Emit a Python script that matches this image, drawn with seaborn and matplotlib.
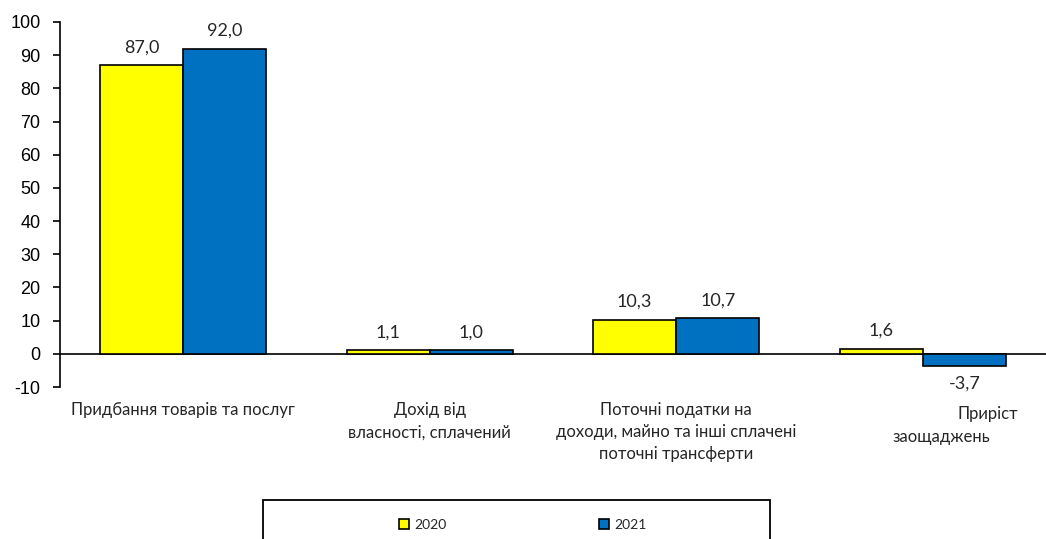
"""
Structure of household expenditures, 2020 vs 2021 (% of income).
Grouped bar chart with value labels and a boxed legend at the bottom.
"""

import pandas as pd
import matplotlib.pyplot as plt
import seaborn as sns
from matplotlib.patches import Patch, Rectangle
from matplotlib.transforms import blended_transform_factory

# --- Data ---
categories = [
    "Придбання товарів та послуг",
    "Дохід від\nвласності, сплачений",
    "Поточні податки на\nдоходи, майно та інші сплачені\nпоточні трансферти",
    "Приріст заощаджень",
]
years = ["2020", "2021"]
values_2020 = [87.0, 1.1, 10.3, 1.6]
values_2021 = [92.0, 1.0, 10.7, -3.7]
y_ticks = [-10, 0, 10, 20, 30, 40, 50, 60, 70, 80, 90, 100]
colors = ["#FFFF00", "#0070C0"]

label_font = ["Lato", "DejaVu Sans"]
tick_font = ["Liberation Sans", "DejaVu Sans"]


def build_frame():
    rows = []
    for cat, v in zip(categories, values_2020):
        rows.append({"Category": cat, "Year": years[0], "Value": v})
    for cat, v in zip(categories, values_2021):
        rows.append({"Category": cat, "Year": years[1], "Value": v})
    return pd.DataFrame(rows)


def main():
    df = build_frame()
    sns.set_style("white")

    fig = plt.figure(figsize=(10.46, 5.39), dpi=100)
    ax = fig.add_axes([60 / 1046, 1 - 387 / 539, 1 - 60 / 1046, (387 - 22) / 539])

    sns.barplot(
        data=df, x="Category", y="Value", hue="Year",
        order=categories, hue_order=years, palette=colors,
        width=0.675, edgecolor="black", linewidth=1.2,
        saturation=1, legend=False, ax=ax,
    )

    # value labels with decimal comma
    for cont, vals in zip(ax.containers, [values_2020, values_2021]):
        labels = [f"{v:.1f}".replace(".", ",") for v in vals]
        ax.bar_label(cont, labels=labels, padding=7, fontsize=13,
                     family=label_font)

    ax.set_ylim(-10, 100)
    ax.set_xlim(-0.5, 3.5)
    ax.set_yticks(y_ticks)
    ax.set_yticklabels([str(t) for t in y_ticks], fontsize=13, family=tick_font)
    ax.axhline(0, color="black", lw=1.2, zorder=0.5)

    for side in ["top", "right", "bottom"]:
        ax.spines[side].set_visible(False)
    ax.spines["left"].set_color("black")
    ax.spines["left"].set_linewidth(1.2)
    ax.tick_params(axis="y", left=True, direction="out", length=5, width=1.2,
                   pad=9, colors="black")

    # category labels (last one has odd alignment in the original)
    xticklabels = categories[:3] + [""]
    ax.set_xticks(range(len(categories)))
    ax.set_xticklabels(xticklabels, fontsize=12, family=label_font,
                       linespacing=1.45)
    ax.tick_params(axis="x", length=0, pad=11)
    ax.set_xlabel("")
    ax.set_ylabel("")

    trans = blended_transform_factory(ax.transData, ax.transAxes)
    ax.text(3.385, -0.074, "Приріст", ha="right", va="center",
            fontsize=12, family=label_font, transform=trans)
    ax.text(2.878, -0.137, "заощаджень", ha="left", va="center",
            fontsize=12, family=label_font, transform=trans)

    # legend box cut off at the bottom
    fig.patches.append(Rectangle((263 / 1046, -0.05), 507 / 1046,
                                 (539 - 500) / 539 + 0.05,
                                 fill=False, edgecolor="black", lw=1.3,
                                 transform=fig.transFigure, figure=fig))
    handles = [Patch(facecolor=c, edgecolor="black", lw=1.2) for c in colors]
    fig.legend(handles, years, loc="center", bbox_to_anchor=(0.5, 1 - 525 / 539),
               ncol=2, frameon=False, handlelength=0.7, handleheight=0.7,
               handletextpad=0.4, columnspacing=11,
               prop={"family": label_font, "size": 10})

    plt.savefig("out.png", dpi=100)
    plt.close()


if __name__ == "__main__":
    main()
